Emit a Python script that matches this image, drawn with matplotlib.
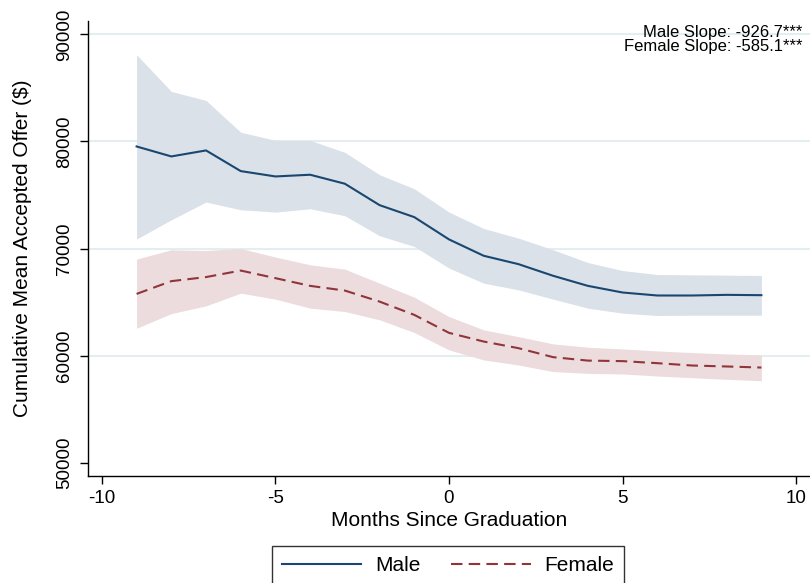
import matplotlib
matplotlib.use("Agg")
import matplotlib.pyplot as plt
from matplotlib.lines import Line2D

plt.rcParams['font.family'] = ['Liberation Sans', 'DejaVu Sans']

months = list(range(-9, 10))
male = [79530, 78600, 79160, 77230, 76730, 76890, 76050, 74050, 72930, 70850,
        69320, 68540, 67450, 66510, 65890, 65610, 65610, 65670, 65640]
male_hi = [88100, 84670, 83830, 80860, 80100, 80100, 78980, 76890, 75580, 73400,
           71870, 70970, 69880, 68690, 67940, 67570, 67540, 67510, 67480]
male_lo = [70880, 72680, 74340, 73620, 73400, 73710, 73060, 71190, 70190, 68170,
           66760, 66140, 65270, 64430, 63960, 63740, 63770, 63770, 63770]
female = [65760, 66950, 67330, 67940, 67230, 66510, 66070, 65040, 63800, 62120,
          61310, 60690, 59850, 59530, 59480, 59290, 59070, 58980, 58880]
female_hi = [69010, 69880, 69810, 70000, 69200, 68480, 68070, 66760, 65450, 63640,
             62400, 61770, 61090, 60780, 60620, 60430, 60280, 60150, 60060]
female_lo = [62550, 63920, 64640, 65830, 65270, 64430, 64110, 63340, 62150, 60530,
             59590, 59120, 58500, 58340, 58280, 58090, 57930, 57780, 57650]

xticks = [-10, -5, 0, 5, 10]
yticks = [50000, 60000, 70000, 80000, 90000]
grid_vals = [60000, 70000, 80000, 90000]
slope_text = ["Male Slope: -926.7***", "Female Slope: -585.1***"]

c_male = "#1a476f"
c_female = "#90353b"
c_male_band = "#dae1e8"
c_female_band = "#ecdcdd"
c_grid = "#e4edf0"

fig = plt.figure(figsize=(8.10, 5.83), dpi=100)
ax = fig.add_axes([88/810, 1-476/583, 722/810, 455/583])

for g in grid_vals:
    ax.axhline(g, color=c_grid, lw=1.5, zorder=0)

ax.fill_between(months, male_lo, male_hi, color=c_male_band, lw=0, zorder=1)
ax.fill_between(months, female_lo, female_hi, color=c_female_band, lw=0, zorder=1)
ax.plot(months, male, color=c_male, lw=1.5, zorder=3)
ax.plot(months, female, color=c_female, lw=1.5, ls=(0, (5.5, 3)), zorder=3)

ax.set_xlim(-10.4, 10.4)
ax.set_ylim(48750, 91250)
ax.set_xticks(xticks)
ax.set_xticklabels([str(t) for t in xticks])
ax.set_yticks(yticks)
ax.set_yticklabels([str(t) for t in yticks], rotation=90, va='center')

for s in ['top', 'right']:
    ax.spines[s].set_visible(False)
for s in ['left', 'bottom']:
    ax.spines[s].set_linewidth(1.0)
    ax.spines[s].set_color('black')

ax.tick_params(axis='x', length=6, width=1, pad=4, labelsize=13.5)
ax.tick_params(axis='y', length=6, width=1, pad=5, labelsize=13.5)

ax.set_xlabel("Months Since Graduation", fontsize=15)
ax.set_ylabel("Cumulative Mean Accepted Offer ($)", fontsize=15)
ax.xaxis.set_label_coords(0.5, -0.078)
ax.yaxis.set_label_coords(-0.078, 0.5)

fig.text(802/810, 1-36.5/583, slope_text[0], ha='right', va='baseline', fontsize=12)
fig.text(802/810, 1-51.5/583, slope_text[1], ha='right', va='baseline', fontsize=12)

handles = [Line2D([], [], color=c_male, lw=1.5),
           Line2D([], [], color=c_female, lw=1.5, ls=(0, (5.5, 3)))]
leg = fig.legend(handles, ["Male", "Female"], ncol=2, loc='upper center',
                 bbox_to_anchor=(448/810, 1-546/583), fontsize=15,
                 frameon=True, fancybox=False, edgecolor='black',
                 handlelength=3.8, handletextpad=0.65, columnspacing=1.5,
                 borderpad=0.5, borderaxespad=0)
leg.get_frame().set_linewidth(1.0)

fig.savefig("out.png", dpi=100)
